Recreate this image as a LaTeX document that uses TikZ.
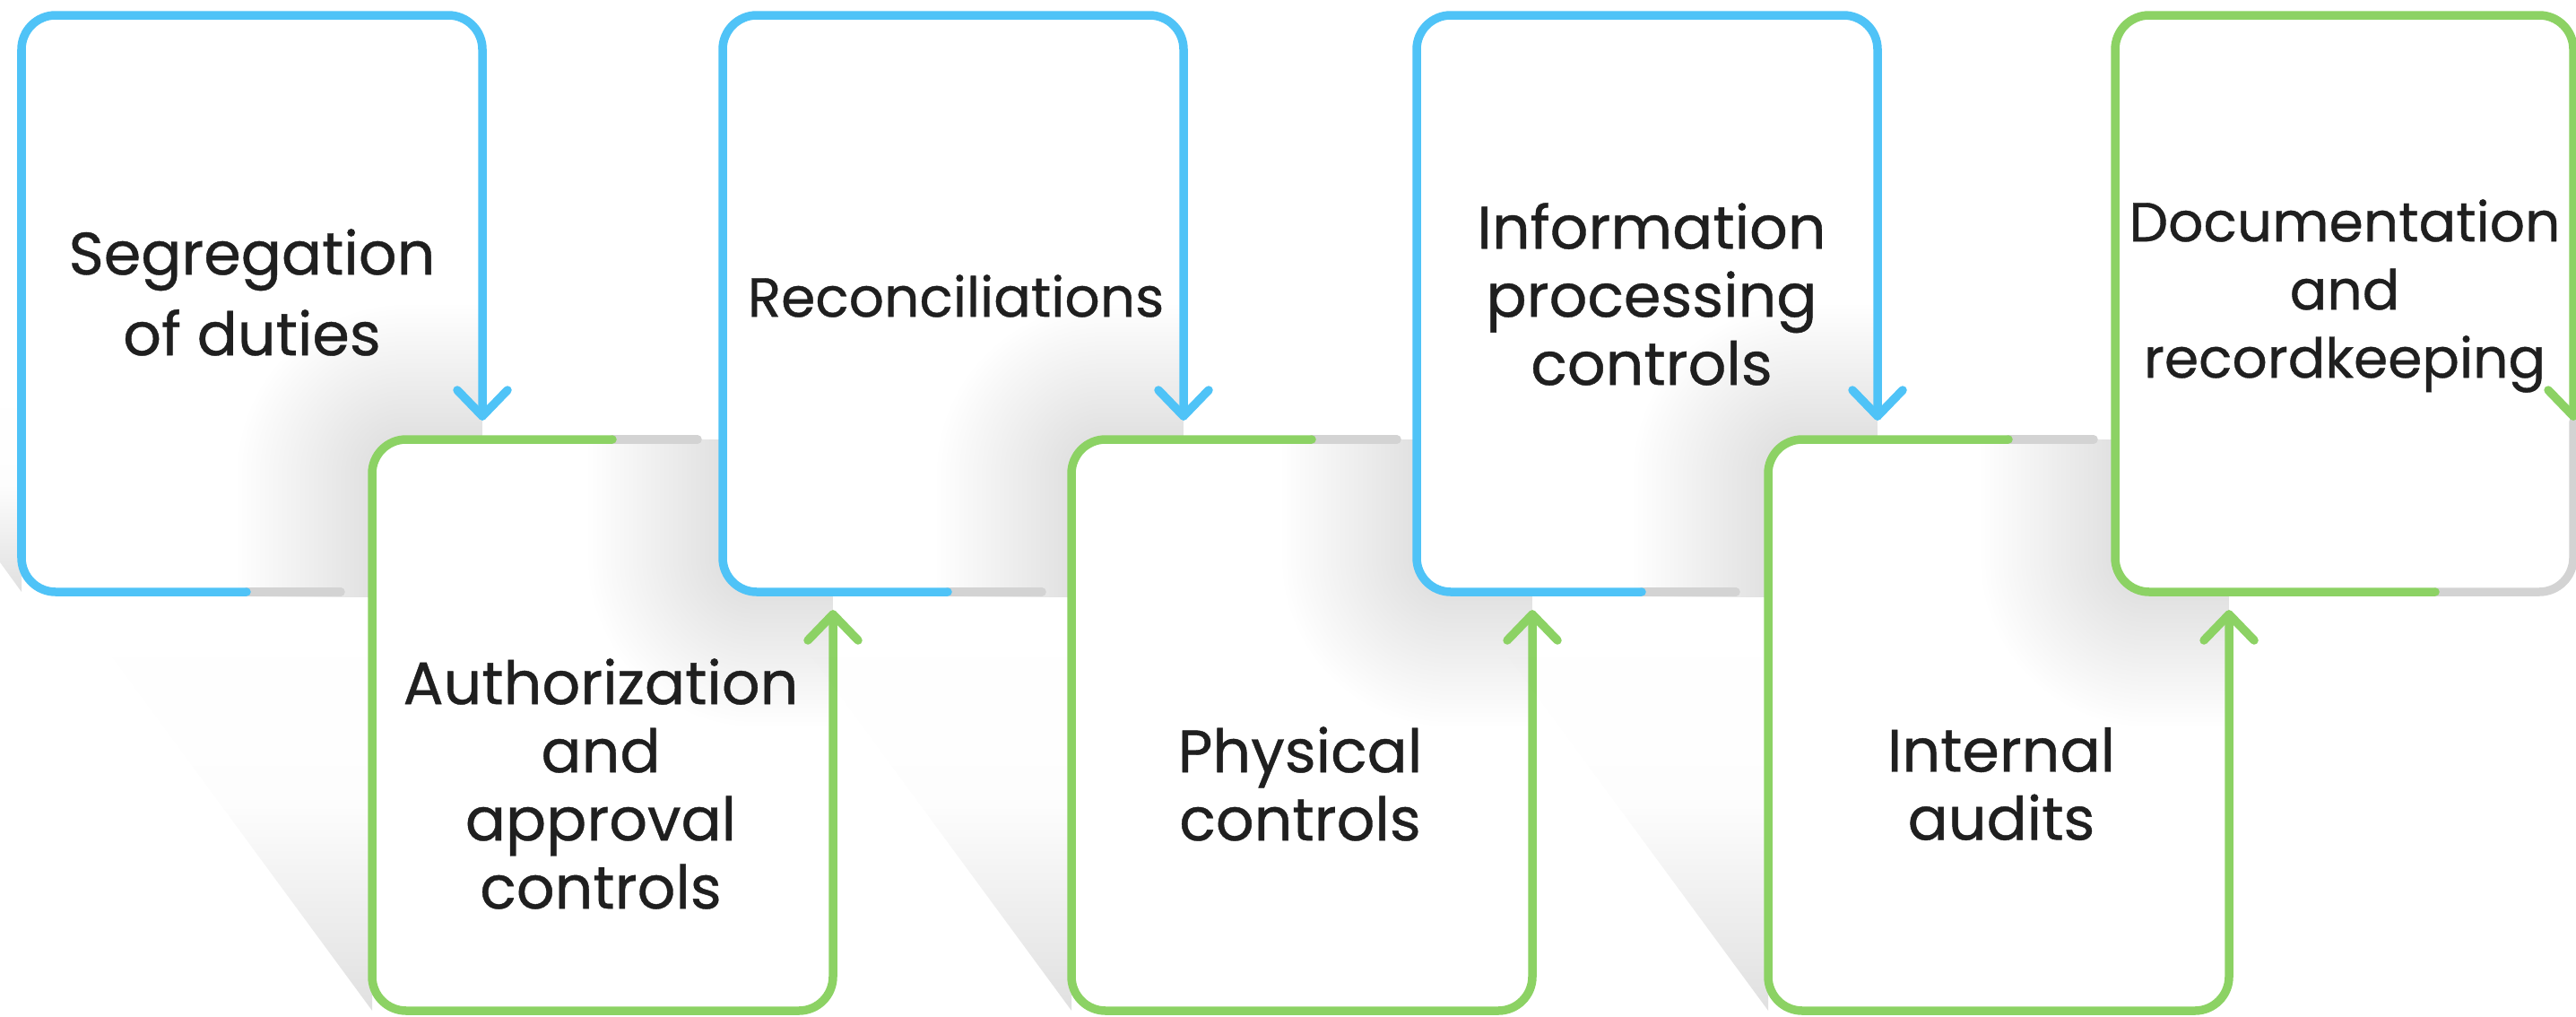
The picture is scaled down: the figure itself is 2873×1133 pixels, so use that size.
\documentclass[tikz,border=0pt]{standalone}
\usepackage{fontspec}
\setmainfont{Poppins}[FakeBold=0.6]
\usepackage{tikz}
\usetikzlibrary{fadings}

\definecolor{cardblue}{HTML}{4FC3F7}
\definecolor{cardgreen}{HTML}{8CD264}
\definecolor{railgray}{HTML}{D3D3D3}
\definecolor{inkdark}{HTML}{1F1F1F}

% long shadow below a card: clear at the top, grey at the foot
\tikzfading[name=wedgefade, top color=transparent!100, bottom color=transparent!0, middle color=transparent!94]

% soft shadow of one card, built from thin see-through layers
\newcommand{\softshadow}[4]{%
  \foreach \s in {0,5,...,150}{%
    \pgfmathsetmacro{\rr}{0.38+0.01*\s}
    \fill[black, opacity=0.0048, rounded corners=\rr cm] (#1-\s,#2-\s) rectangle (#3+\s,#4+\s);
  }}

\begin{document}
\begin{tikzpicture}[x=0.01cm, y=-0.01cm,
  rail/.style={line width=0.95mm, line cap=round, line join=round, rounded corners=3.8mm},
  tip/.style={line width=0.95mm, line cap=round, line join=round},
  cardfill/.style={fill=white, rounded corners=3.8mm},
  wedge/.style={fill=black, fill opacity=0.12, path fading=wedgefade},
  cardtext/.style={text=inkdark, align=center, inner sep=0pt, font=\fontsize{19}{21.6}\selectfont}]

  \useasboundingbox (0,0) rectangle (2873,1133);
  \fill[white] (0,0) rectangle (2873,1133);

  % card 1: segregation of duties
  \path[wedge] (0,420) -- (24,420) -- (24,660) -- (0,627) -- cycle;
  \fill[cardfill] (24,17) rectangle (538,660);
  \begin{scope}
    \clip (24,17) rectangle (538,665);
    \softshadow{415}{490}{929}{1127}
  \end{scope}
  \draw[rail, railgray] (275,660) -- (380,660);
  \draw[rail, cardblue] (538,464) -- (538,17) -- (24,17) -- (24,660) -- (275,660);
  \draw[tip, cardblue] (510,435) -- (538,464) -- (566,435);
  \node[cardtext, font=\fontsize{19}{25.6}\selectfont] (segregation) at (281,326) {Segregation\\of duties};

  % card 2: authorization
  \path[wedge] (75,665) -- (415,665) -- (415,1127) -- cycle;
  \fill[cardfill] (415,490) rectangle (929,1127);
  \begin{scope}
    \clip (415,490) rectangle (929,1133);
    \softshadow{806}{17}{1320}{660}
  \end{scope}
  \draw[rail, railgray] (683,490) -- (778,490);
  \draw[rail, cardgreen] (929,685) -- (929,1127) -- (415,1127) -- (415,490) -- (683,490);
  \draw[tip, cardgreen] (901,714) -- (929,685) -- (957,714);
  \node[cardtext] (authorization) at (670,874) {Authorization\\and\\approval\\controls};

  % card 3: reconciliations
  \fill[cardfill] (806,17) rectangle (1320,660);
  \begin{scope}
    \clip (806,17) rectangle (1320,665);
    \softshadow{1195}{490}{1709}{1127}
  \end{scope}
  \draw[rail, railgray] (1057,660) -- (1162,660);
  \draw[rail, cardblue] (1320,464) -- (1320,17) -- (806,17) -- (806,660) -- (1057,660);
  \draw[tip, cardblue] (1292,435) -- (1320,464) -- (1348,435);
  \node[cardtext, font=\fontsize{17.5}{21.6}\selectfont] (reconciliations) at (1066,330) {Reconciliations};

  % card 4: physical controls
  \path[wedge] (855,665) -- (1195,665) -- (1195,1127) -- cycle;
  \fill[cardfill] (1195,490) rectangle (1709,1127);
  \begin{scope}
    \clip (1195,490) rectangle (1709,1133);
    \softshadow{1580}{17}{2094}{660}
  \end{scope}
  \draw[rail, railgray] (1463,490) -- (1558,490);
  \draw[rail, cardgreen] (1709,685) -- (1709,1127) -- (1195,1127) -- (1195,490) -- (1463,490);
  \draw[tip, cardgreen] (1681,714) -- (1709,685) -- (1737,714);
  \node[cardtext] (physical) at (1450,874) {Physical\\controls};

  % card 5: information processing
  \fill[cardfill] (1580,17) rectangle (2094,660);
  \begin{scope}
    \clip (1580,17) rectangle (2094,665);
    \softshadow{1972}{490}{2486}{1127}
  \end{scope}
  \draw[rail, railgray] (1831,660) -- (1936,660);
  \draw[rail, cardblue] (2094,464) -- (2094,17) -- (1580,17) -- (1580,660) -- (1831,660);
  \draw[tip, cardblue] (2066,435) -- (2094,464) -- (2122,435);
  \node[cardtext] (information) at (1842,328) {Information\\processing\\controls};

  % card 6: internal audits
  \path[wedge] (1632,665) -- (1972,665) -- (1972,1127) -- cycle;
  \fill[cardfill] (1972,490) rectangle (2486,1127);
  \begin{scope}
    \clip (1972,490) rectangle (2486,1133);
    \softshadow{2359}{17}{2870}{660}
  \end{scope}
  \draw[rail, railgray] (2240,490) -- (2335,490);
  \draw[rail, cardgreen] (2486,685) -- (2486,1127) -- (1972,1127) -- (1972,490) -- (2240,490);
  \draw[tip, cardgreen] (2458,714) -- (2486,685) -- (2514,714);
  \node[cardtext] (internal) at (2232,874) {Internal\\audits};

  % card 7: documentation, closes the loop
  \fill[cardfill] (2359,17) rectangle (2870,660);
  \draw[rail, railgray] (2716,660) -- (2870,660) -- (2870,470);
  \draw[rail, cardgreen] (2870,464) -- (2870,17) -- (2359,17) -- (2359,660) -- (2716,660);
  \draw[tip, cardgreen] (2842,435) -- (2870,464) -- (2898,435);
  \node[cardtext, font=\fontsize{17.5}{21.6}\selectfont] (documentation) at (2615,330) {Documentation\\and\\recordkeeping};
\end{tikzpicture}
\end{document}
